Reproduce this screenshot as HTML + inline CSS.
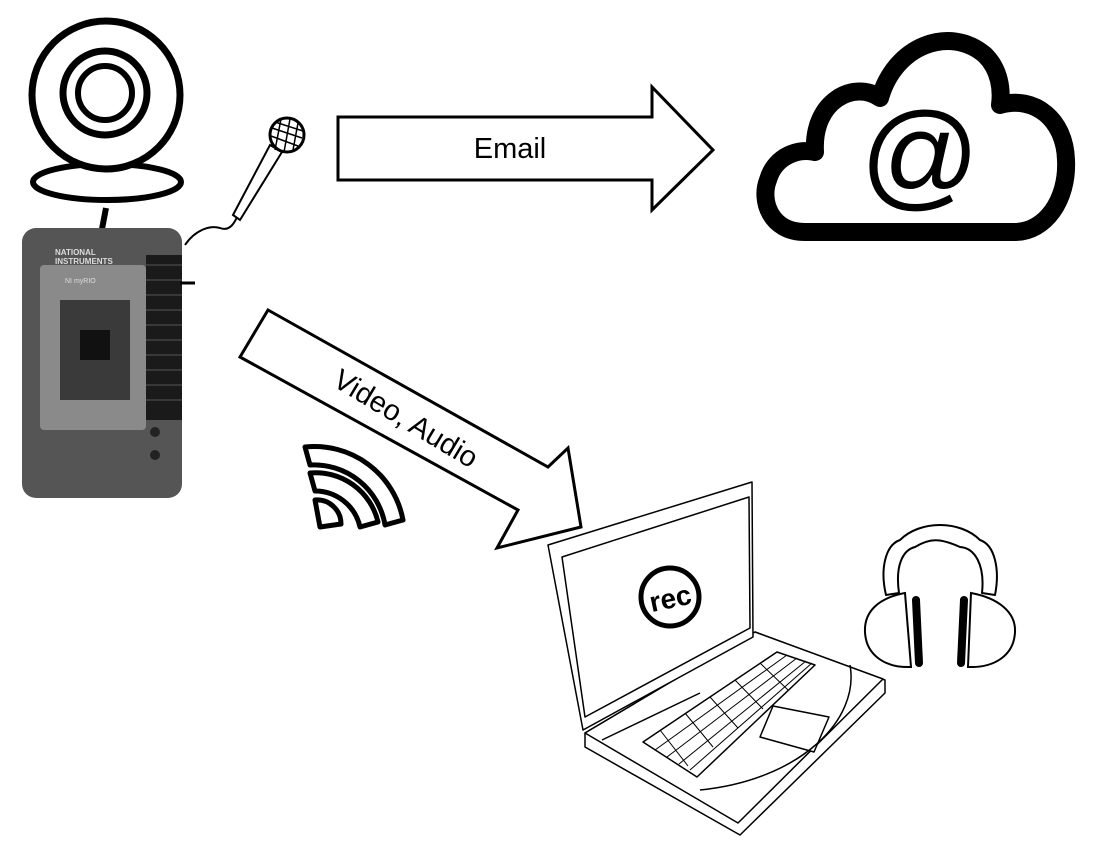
<!DOCTYPE html>
<html><head><meta charset="utf-8"><style>
html,body{margin:0;padding:0;background:#fff;}
svg{display:block}
text{font-family:"Liberation Sans",sans-serif;}
</style></head><body>
<svg width="1110" height="846" viewBox="0 0 1110 846" xmlns="http://www.w3.org/2000/svg">
<!-- webcam -->
<ellipse cx="107" cy="182" rx="74" ry="18" fill="#fff" stroke="#000" stroke-width="6"/>
<circle cx="106" cy="95" r="74" fill="#fff" stroke="#000" stroke-width="7"/>
<circle cx="105" cy="93" r="42" fill="none" stroke="#000" stroke-width="7"/>
<circle cx="105" cy="93" r="27" fill="none" stroke="#000" stroke-width="6"/>
<line x1="106" y1="208" x2="102" y2="229" stroke="#000" stroke-width="6"/>
<!-- myRIO -->
<rect x="22" y="228" width="160" height="270" rx="14" fill="#555"/>
<rect x="40" y="265" width="106" height="165" rx="4" fill="#8a8a8a"/>
<rect x="60" y="300" width="70" height="100" fill="#3a3a3a"/>
<rect x="80" y="330" width="30" height="30" fill="#111"/>
<rect x="146" y="255" width="36" height="165" fill="#1a1a1a"/>
<g stroke="#555" stroke-width="1">
<line x1="146" y1="265" x2="182" y2="265"/><line x1="146" y1="280" x2="182" y2="280"/><line x1="146" y1="295" x2="182" y2="295"/><line x1="146" y1="310" x2="182" y2="310"/><line x1="146" y1="325" x2="182" y2="325"/><line x1="146" y1="340" x2="182" y2="340"/><line x1="146" y1="355" x2="182" y2="355"/><line x1="146" y1="370" x2="182" y2="370"/><line x1="146" y1="385" x2="182" y2="385"/><line x1="146" y1="400" x2="182" y2="400"/></g>
<line x1="180" y1="283" x2="195" y2="283" stroke="#000" stroke-width="3"/>
<circle cx="155" cy="432" r="5" fill="#222"/><circle cx="155" cy="455" r="5" fill="#222"/>
<text x="55" y="255" font-size="8" font-weight="bold" fill="#ddd">NATIONAL</text>
<text x="55" y="264" font-size="8" font-weight="bold" fill="#ddd">INSTRUMENTS</text>
<text x="65" y="283" font-size="7" fill="#ddd">NI myRIO</text>
<!-- mic -->
<path d="M185 245 C195 230 210 225 220 228 C230 232 235 222 238 215" fill="none" stroke="#000" stroke-width="2"/>
<path d="M233 215 L240 220 L282 152 L270 145 Z" fill="#fff" stroke="#000" stroke-width="2"/>
<circle cx="287" cy="135" r="17" fill="#fff" stroke="#000" stroke-width="3"/>
<g stroke="#000" stroke-width="1.5"><line x1="272" y1="128" x2="302" y2="138"/><line x1="275" y1="122" x2="303" y2="131"/><line x1="271" y1="136" x2="298" y2="146"/><line x1="281" y1="119" x2="275" y2="150"/><line x1="290" y1="119" x2="284" y2="152"/><line x1="298" y1="123" x2="293" y2="150"/></g>
<!-- email arrow -->
<polygon points="338,117 652,117 652,87 713,150 652,210 652,180 338,180" fill="#fff" stroke="#000" stroke-width="3"/>
<text x="510" y="158" font-size="29" text-anchor="middle">Email</text>
<!-- cloud -->
<path d="M805 232 C770 232 760 200 768 180 C775 155 800 148 815 152 C812 100 855 80 880 98 C895 45 950 25 985 55 C1000 70 1002 90 1000 105 C1035 95 1065 120 1066 160 C1068 200 1045 232 1015 232 Z" fill="#fff" stroke="#000" stroke-width="18" stroke-linejoin="round"/>
<text x="920" y="195" font-size="118" text-anchor="middle">@</text>
<!-- video arrow -->
<polygon points="268,310 548,467 568,448 581,527 497,548 518,510 240,357" fill="#fff" stroke="#000" stroke-width="3"/>
<text x="405" y="428" font-size="29" text-anchor="middle" transform="rotate(31 405 420)">Video, Audio</text>
<!-- wifi: outlined bands -->
<g fill="#fff" stroke="#000" stroke-width="5" stroke-linejoin="round">
<path d="M305 447 L310 465 A72 72 0 0 1 385 525 L403 520 A90 90 0 0 0 305 447 Z"/>
<path d="M310 473 L315 491 A46 46 0 0 1 360 527 L378 522 A64 64 0 0 0 310 473 Z"/>
<path d="M315 500 L320 527 L341 524 A24 24 0 0 0 315 500 Z"/>
</g>
<!-- laptop -->
<g fill="#fff" stroke="#000" stroke-width="1.5" stroke-linejoin="round">
<polygon points="585,733 755,632 885,680 885,693 740,835 585,747"/>
<polygon points="585,733 755,632 883,679 738,823"/>
<polygon points="548,545 752,482 753,637 583,730"/>
<polygon points="562,557 749,497 750,628 585,717"/>
<path d="M602 740 L700 693" fill="none"/>
<polygon points="643,742 777,652 815,665 697,777"/>
<polygon points="760,737 773,706 829,717 814,752"/>
<path d="M850 665 C860 720 800 780 700 790" fill="none"/>
</g>
<g stroke="#000" stroke-width="1" fill="none">
<line x1="655" y1="750" x2="787" y2="655"/><line x1="667" y1="757" x2="797" y2="658"/><line x1="679" y1="764" x2="806" y2="661"/><line x1="690" y1="770" x2="812" y2="663"/>
<line x1="660" y1="730" x2="688" y2="766"/><line x1="685" y1="713" x2="713" y2="747"/><line x1="710" y1="697" x2="738" y2="728"/><line x1="735" y1="680" x2="763" y2="709"/><line x1="760" y1="663" x2="788" y2="690"/>
</g>
<circle cx="670" cy="597" r="29" fill="#fff" stroke="#000" stroke-width="5"/>
<text x="670" y="608" font-size="28" font-weight="bold" text-anchor="middle" transform="rotate(-12 670 597)">rec</text>
<!-- headphones -->
<path d="M886 595 C880 570 885 545 900 540 C920 520 960 520 980 540 C995 545 1000 570 995 595 L982 593 C985 565 975 548 960 547 C940 538 930 538 915 547 C903 550 895 565 899 593 Z" fill="#fff" stroke="#000" stroke-width="2" stroke-linejoin="round"/>
<path d="M905 593 C878 598 864 612 865 632 C866 655 885 668 911 667 Z" fill="#fff" stroke="#000" stroke-width="2"/>
<path d="M971 593 C998 598 1016 612 1015 632 C1014 655 995 668 968 667 Z" fill="#fff" stroke="#000" stroke-width="2"/>
<line x1="916" y1="600" x2="919" y2="663" stroke="#000" stroke-width="8" stroke-linecap="round"/>
<line x1="964" y1="600" x2="961" y2="663" stroke="#000" stroke-width="8" stroke-linecap="round"/>
</svg>
</body></html>
